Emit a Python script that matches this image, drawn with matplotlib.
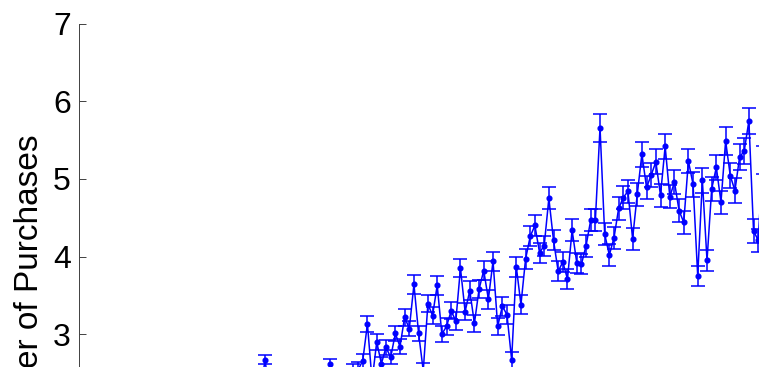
import numpy as np
import matplotlib
matplotlib.use("Agg")
import matplotlib.pyplot as plt

plt.rcParams['font.family'] = ['Liberation Sans', 'DejaVu Sans']

# Mean number of purchases per period, with its standard error
mean_purchases = [
    1.20, 1.35, 1.28, 1.42, 1.31, 1.50, 1.46, 1.38, 1.55, 1.62,
    1.49, 1.58, 1.70, 1.64, 1.52, 1.75, 1.68, 1.81, 1.73, 1.66,
    1.88, 1.79, 1.92, 1.85, 1.77, 1.98, 1.90, 2.03, 1.95, 1.87,
    2.10, 2.02, 2.15, 1.97, 2.08, 2.21, 2.12, 2.05, 2.26, 2.67,
    2.18, 2.30, 2.22, 2.14, 2.35, 2.27, 2.19, 2.38, 2.31, 2.24,
    2.40, 2.33, 2.28, 2.61, 2.36, 2.29, 2.42, 2.34, 2.53, 2.54,
    2.66, 3.13, 2.40, 2.90, 2.62, 2.83, 2.70, 3.01, 2.84, 3.22,
    3.07, 3.64, 3.01, 2.53, 3.39, 3.24, 3.63, 3.00, 3.10, 3.30,
    3.17, 3.85, 3.29, 3.56, 3.14, 3.58, 3.82, 3.45, 3.94, 3.10,
    3.36, 3.25, 2.67, 3.87, 3.38, 3.97, 4.26, 4.40, 4.05, 4.14,
    4.75, 4.21, 3.81, 3.93, 3.71, 4.34, 3.92, 3.90, 4.14, 4.47,
    4.47, 5.66, 4.29, 4.02, 4.24, 4.62, 4.76, 4.84, 4.23, 4.80,
    5.32, 4.89, 5.05, 5.22, 4.79, 5.42, 4.77, 4.96, 4.59, 4.44,
    5.23, 4.93, 3.75, 4.98, 3.95, 4.87, 5.15, 4.70, 5.49, 5.04,
    4.85, 5.28, 5.36, 5.75, 4.33, 4.21, 5.24,
]

std_error = [
    0.05, 0.05, 0.05, 0.06, 0.05, 0.06, 0.06, 0.05, 0.06, 0.06,
    0.06, 0.06, 0.06, 0.06, 0.06, 0.06, 0.06, 0.07, 0.06, 0.06,
    0.07, 0.06, 0.07, 0.07, 0.06, 0.07, 0.07, 0.07, 0.07, 0.07,
    0.07, 0.07, 0.07, 0.07, 0.07, 0.08, 0.07, 0.07, 0.08, 0.06,
    0.07, 0.08, 0.07, 0.07, 0.08, 0.08, 0.07, 0.08, 0.08, 0.08,
    0.08, 0.08, 0.08, 0.07, 0.08, 0.08, 0.08, 0.08, 0.09, 0.10,
    0.09, 0.10, 0.09, 0.10, 0.09, 0.10, 0.09, 0.10, 0.10, 0.11,
    0.10, 0.12, 0.10, 0.10, 0.11, 0.11, 0.12, 0.10, 0.11, 0.11,
    0.11, 0.12, 0.11, 0.12, 0.11, 0.12, 0.12, 0.12, 0.12, 0.11,
    0.12, 0.12, 0.10, 0.13, 0.12, 0.13, 0.13, 0.14, 0.13, 0.13,
    0.14, 0.13, 0.13, 0.13, 0.13, 0.14, 0.13, 0.13, 0.14, 0.14,
    0.14, 0.18, 0.14, 0.14, 0.14, 0.15, 0.15, 0.15, 0.14, 0.15,
    0.16, 0.15, 0.16, 0.16, 0.15, 0.16, 0.15, 0.16, 0.15, 0.15,
    0.16, 0.16, 0.13, 0.16, 0.13, 0.16, 0.16, 0.15, 0.18, 0.16,
    0.16, 0.17, 0.17, 0.17, 0.15, 0.15, 0.18,
]

y_ticks = [3, 4, 5, 6, 7]

period = np.arange(1, len(mean_purchases) + 1)

W, H = 759, 367
fig = plt.figure(figsize=(W / 100, H / 100), dpi=100)

# axes box in pixel terms: left edge, top (y = 7), bottom (y = 0)
left_px, top_px, bottom_px = 79.0, 23.7, 567.0
x_max = 160
x_unit_px = 4.652
ax = fig.add_axes([left_px / W,
                   1 - bottom_px / H,
                   x_max * x_unit_px / W,
                   (bottom_px - top_px) / H])

ax.errorbar(period, mean_purchases, yerr=std_error,
            color=(0, 0, 1), lw=1.1, elinewidth=1.1,
            marker='o', ms=3.4, mfc=(0, 0, 1), mec=(0, 0, 1),
            capsize=5.3, capthick=1.1)

ax.set_xlim(0, x_max)
ax.set_ylim(0, 7)
ax.set_yticks(y_ticks)
ax.set_yticklabels([str(t) for t in y_ticks])
ax.tick_params(axis='y', direction='in', length=5, width=0.7,
               color='#404040', labelsize=23, pad=6)
ax.tick_params(axis='x', direction='in', length=5, width=0.7,
               color='#404040', labelbottom=False)

for side in ('top', 'right'):
    ax.spines[side].set_visible(False)
for side in ('left', 'bottom'):
    ax.spines[side].set_color('#404040')
    ax.spines[side].set_linewidth(0.7)

ax.set_ylabel('Number of Purchases', fontsize=24)
ax.yaxis.set_label_coords(-0.046, 0.5)

fig.savefig('out.png', dpi=100)
